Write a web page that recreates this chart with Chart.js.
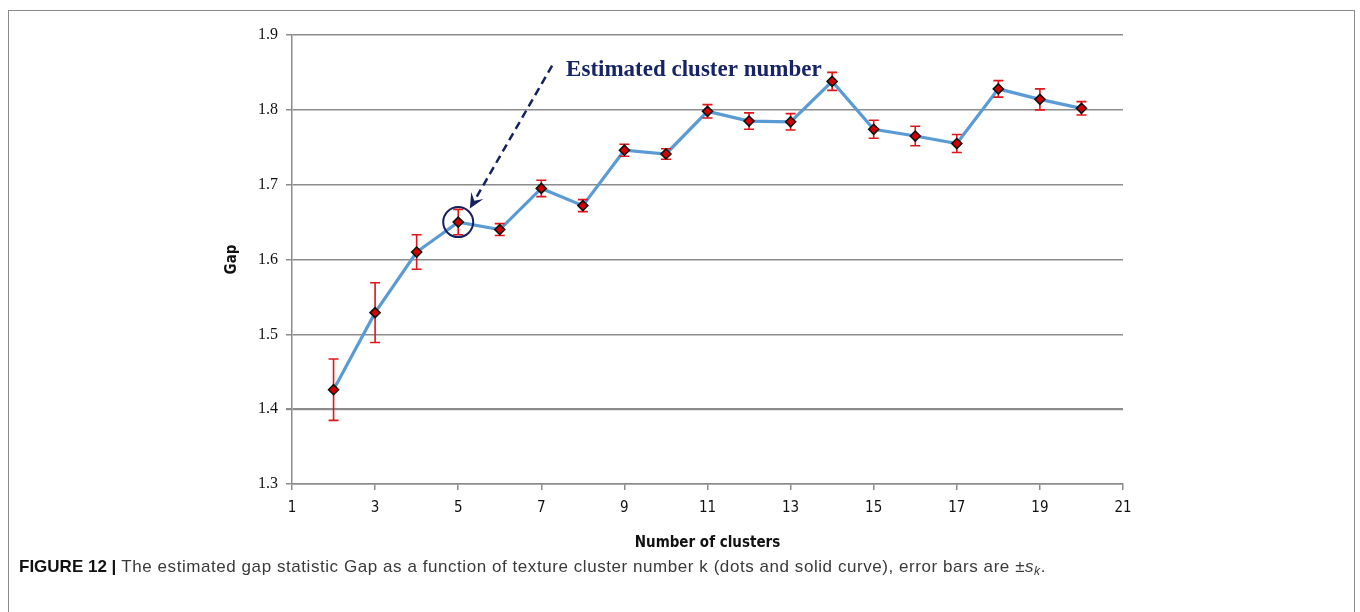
<!DOCTYPE html>
<html>
<head>
<meta charset="utf-8">
<script src="https://cdn.jsdelivr.net/npm/chart.js@4/dist/chart.umd.min.js"></script>
<style>
html,body{margin:0;padding:0;background:#fff;width:1360px;height:612px;overflow:hidden}
#frame{position:absolute;left:8px;top:10px;width:1347px;height:700px;border:1.5px solid #8a8a8a;border-bottom:none;box-sizing:border-box}
#wrap{position:absolute;left:0;top:0;width:1360px;height:612px}
#caption{position:absolute;left:19px;top:557px;font-family:"Liberation Sans",Arial,sans-serif;font-size:17px;color:#3a3a3a;white-space:nowrap;letter-spacing:0.56px}
#caption b{color:#111;letter-spacing:0}
#caption sub{font-size:12px;vertical-align:-3px}
</style>
</head>
<body>
<div id="frame"></div>
<div id="wrap"><canvas id="gapChart" width="1360" height="612"></canvas></div>
<div id="caption"><b>FIGURE 12 |</b> The estimated gap statistic Gap as a function of texture cluster number k (dots and solid curve), error bars are ±<i>s<sub>k</sub></i>.</div>
<script>
// number of clusters k, gap statistic and its standard error s_k
const clusters=[2,3,4,5,6,7,8,9,10,11,12,13,14,15,16,17,18,19,20]
const gap=[1.426,1.529,1.610,1.650,1.640,1.695,1.672,1.746,1.741,1.798,1.785,1.784,1.838,1.774,1.765,1.755,1.828,1.814,1.802]
const sk=[0.041,0.040,0.023,0.017,0.008,0.011,0.008,0.008,0.007,0.009,0.011,0.011,0.012,0.012,0.013,0.012,0.011,0.014,0.009]
const yTicks=[1.3,1.4,1.5,1.6,1.7,1.8,1.9]

// picked k and where the callout text starts (data units)
const bestK=5
const noteFrom={x:7.26,y:1.859}
const noteTo={x:5.28,y:1.668}
const noteText="Estimated cluster number"

const points=clusters.map((k,i)=>({x:k,y:gap[i]}))

const errorBars={
id:"errorBars",
afterDatasetDraw(chart,args){
if(args.index!==0)return
const ctx=chart.ctx,xs=chart.scales.x,ys=chart.scales.y
ctx.save()
ctx.strokeStyle="#e0161b"
ctx.lineWidth=1.6
clusters.forEach((k,i)=>{
let px=xs.getPixelForValue(k)
let top=ys.getPixelForValue(gap[i]+sk[i])
let bot=ys.getPixelForValue(gap[i]-sk[i])
ctx.beginPath()
ctx.moveTo(px,top);ctx.lineTo(px,bot)
ctx.moveTo(px-5,top);ctx.lineTo(px+5,top)
ctx.moveTo(px-5,bot);ctx.lineTo(px+5,bot)
ctx.stroke()
})
ctx.restore()
}
}

const callout={
id:"callout",
afterDraw(chart){
const ctx=chart.ctx,xs=chart.scales.x,ys=chart.scales.y
let i=clusters.indexOf(bestK)
let cx=xs.getPixelForValue(bestK),cy=ys.getPixelForValue(gap[i])
ctx.save()
ctx.strokeStyle="#14215e"
ctx.lineWidth=2
ctx.beginPath()
ctx.arc(cx,cy,15,0,Math.PI*2)
ctx.stroke()

let x1=xs.getPixelForValue(noteFrom.x),y1=ys.getPixelForValue(noteFrom.y)
let x2=xs.getPixelForValue(noteTo.x),y2=ys.getPixelForValue(noteTo.y)
let a=Math.atan2(y2-y1,x2-x1)
ctx.setLineDash([8,5])
ctx.lineWidth=2.5
ctx.beginPath()
ctx.moveTo(x1,y1)
ctx.lineTo(x2-10*Math.cos(a),y2-10*Math.sin(a))
ctx.stroke()
ctx.setLineDash([])
ctx.fillStyle="#14215e"
ctx.beginPath()
ctx.moveTo(x2,y2)
ctx.lineTo(x2-15*Math.cos(a)+7*Math.sin(a),y2-15*Math.sin(a)-7*Math.cos(a))
ctx.lineTo(x2-9*Math.cos(a),y2-9*Math.sin(a))
ctx.lineTo(x2-15*Math.cos(a)-7*Math.sin(a),y2-15*Math.sin(a)+7*Math.cos(a))
ctx.closePath()
ctx.fill()

ctx.fillStyle="#172566"
ctx.font="bold 23px 'Liberation Serif','Times New Roman',serif"
ctx.textBaseline="middle"
ctx.textAlign="left"
ctx.fillText(noteText,x1+14,y1+4)
ctx.restore()
}
}

const narrow="'Liberation Sans Narrow','DejaVu Sans Condensed',sans-serif"

new Chart(document.getElementById("gapChart"),{
type:"scatter",
data:{datasets:[
{data:points,showLine:true,borderColor:"#5b9bd5",borderWidth:3.2,pointRadius:0,order:2},
{data:points,showLine:false,pointStyle:"rectRot",pointRadius:5,pointBackgroundColor:"#d40000",pointBorderColor:"#111",pointBorderWidth:1.6,order:1}
]},
options:{
responsive:false,
animation:false,
layout:{padding:{left:223,right:237,top:35,bottom:60}},
plugins:{legend:{display:false},tooltip:{enabled:false}},
scales:{
x:{
type:"linear",min:1,max:21,
afterFit(s){s.height=68},
ticks:{stepSize:2,padding:9,color:"#111",font:{family:narrow,size:15}},
grid:{drawOnChartArea:false,drawTicks:true,tickLength:6,color:"#8c8c8c",lineWidth:1.5},
border:{color:"#8c8c8c",width:1.5},
title:{display:true,text:"Number of clusters",color:"#111",font:{family:narrow,size:15,weight:"bold"},padding:{top:4,bottom:0}}
},
y:{
min:1.3,max:1.9,
afterFit(s){s.width=69},
afterBuildTicks(s){s.ticks=yTicks.map(v=>({value:v}))},
ticks:{padding:8,color:"#111",font:{family:"'Liberation Serif','Times New Roman',serif",size:16},callback:v=>v.toFixed(1)},
grid:{color:"#8c8c8c",lineWidth:c=>c.tick&&Math.abs(c.tick.value-1.4)<1e-6?2.2:1.5,tickLength:6},
border:{color:"#8c8c8c",width:1.5},
title:{display:true,text:"Gap",color:"#111",font:{family:narrow,size:15,weight:"bold"},padding:{top:0,bottom:0}}
}
}
},
plugins:[errorBars,callout]
})
</script>
</body>
</html>
